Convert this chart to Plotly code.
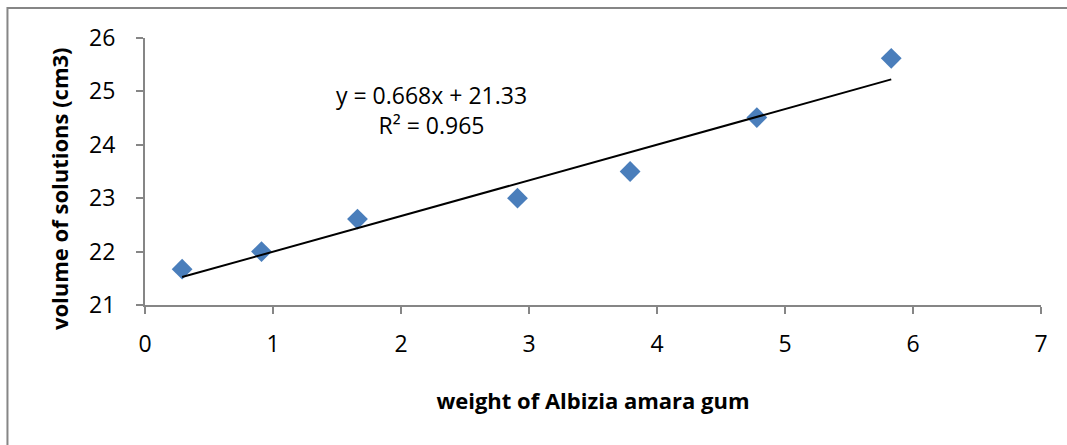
import plotly.graph_objects as go

# Measured data: gum weight vs. solution volume
gum_weight = [0.29, 0.91, 1.66, 2.91, 3.79, 4.78, 5.83]
solution_volume = [21.67, 22.0, 22.61, 23.0, 23.5, 24.51, 25.62]

# Linear trendline coefficients (as stated on the chart)
slope = 0.668
intercept = 21.33
r_squared = 0.965

x_ticks = [0, 1, 2, 3, 4, 5, 6, 7]
y_ticks = [21, 22, 23, 24, 25, 26]

FONT = "Open Sans"
GRAY = "#868686"

trend_x = [min(gum_weight), max(gum_weight)]
trend_y = [slope * x + intercept for x in trend_x]

fig = go.Figure()
fig.add_trace(go.Scatter(
    x=gum_weight, y=solution_volume, mode="markers",
    marker=dict(symbol="diamond", size=16, color="#4A7EBB", line=dict(width=0)),
    showlegend=False, cliponaxis=False,
))
fig.add_trace(go.Scatter(
    x=trend_x, y=trend_y, mode="lines",
    line=dict(color="black", width=2), showlegend=False,
))

fig.add_annotation(
    x=2.24, y=24.66, xref="x", yref="y",
    text=f"y = {slope}x + {intercept}<br>R² = {r_squared}",
    showarrow=False, align="center",
    font=dict(family=FONT, size=23, color="black"),
)

# Vertical axis title, placed as free text beside the axis
fig.add_annotation(
    x=-0.096, y=0.438, xref="paper", yref="paper",
    xanchor="center", yanchor="middle",
    text="<b>volume of solutions (cm3)</b>", textangle=-90,
    showarrow=False, font=dict(family=FONT, size=22, color="black"),
)

# Outer chart frame
fig.add_shape(
    type="rect", xref="paper", yref="paper",
    x0=-0.1535, x1=1.2, y0=-0.7, y1=1.1125,
    line=dict(color=GRAY, width=2), fillcolor="rgba(0,0,0,0)", layer="below",
)

fig.update_layout(
    width=1067, height=445,
    margin=dict(l=145, r=26, t=38, b=140),
    paper_bgcolor="white", plot_bgcolor="white",
    font=dict(family=FONT, size=23, color="black"),
    xaxis=dict(
        range=[0, 7], tickvals=x_ticks, ticktext=[str(v) for v in x_ticks],
        showline=True, linecolor=GRAY, linewidth=2, mirror=False,
        ticks="outside", ticklen=7, tickwidth=2, tickcolor=GRAY,
        showgrid=False, zeroline=False, ticklabelstandoff=10,
        title=dict(text="<b>weight of Albizia amara gum</b>",
                   font=dict(family=FONT, size=22), standoff=36),
    ),
    yaxis=dict(
        range=[21, 26], tickvals=y_ticks, ticktext=[str(v) for v in y_ticks],
        showline=True, linecolor=GRAY, linewidth=2, mirror=False,
        ticks="outside", ticklen=7, tickwidth=2, tickcolor=GRAY,
        showgrid=False, zeroline=False, ticklabelstandoff=16,
    ),
)

fig.write_html("out.html")
